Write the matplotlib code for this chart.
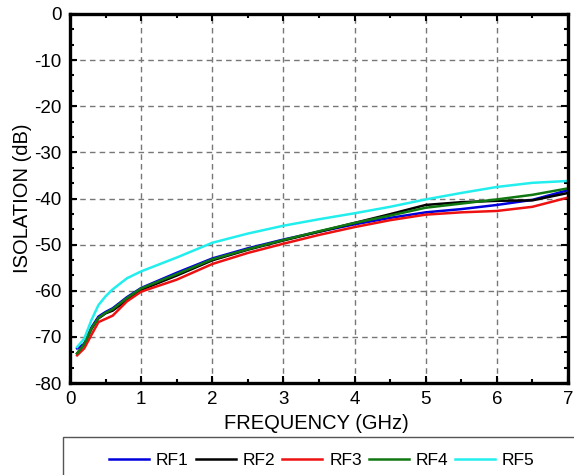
import matplotlib
matplotlib.use("Agg")
import matplotlib.pyplot as plt
from matplotlib.patches import Rectangle
from matplotlib.ticker import MultipleLocator

plt.rcParams['font.family'] = ['Liberation Sans', 'DejaVu Sans']
plt.rcParams['axes.unicode_minus'] = False

freq = [0.1, 0.2, 0.3, 0.4, 0.5, 0.6, 0.8, 1.0, 1.5, 2.0, 2.5, 3.0, 3.5, 4.0, 4.5, 5.0, 5.5, 6.0, 6.5, 7.0]

rf1 = [-72.5, -71.5, -68.0, -65.6, -64.6, -63.8, -61.4, -59.4, -56.1, -53.0, -50.8, -48.9, -47.2, -45.6, -44.2, -43.0, -42.3, -41.4, -40.3, -38.2]
rf2 = [-73.6, -71.6, -68.3, -66.0, -64.9, -64.3, -62.0, -59.8, -56.7, -53.4, -51.1, -49.1, -47.2, -45.3, -43.4, -41.4, -40.8, -40.5, -40.4, -38.8]
rf3 = [-74.0, -72.5, -69.6, -66.8, -66.1, -65.4, -62.3, -60.2, -57.6, -54.2, -51.8, -49.8, -47.9, -46.2, -44.7, -43.5, -43.0, -42.7, -41.8, -39.8]
rf4 = [-73.6, -71.6, -68.2, -65.9, -64.8, -64.0, -61.6, -59.5, -56.4, -53.2, -51.0, -49.0, -47.1, -45.3, -43.7, -42.0, -41.1, -40.2, -39.2, -37.8]
rf5 = [-72.2, -70.4, -66.4, -63.1, -61.2, -59.7, -57.3, -55.8, -52.8, -49.6, -47.6, -45.9, -44.5, -43.2, -41.8, -40.2, -38.8, -37.5, -36.6, -36.2]

series = [("RF1", rf1, "#0000dd"), ("RF2", rf2, "#000000"), ("RF3", rf3, "#ee1111"),
          ("RF4", rf4, "#117711"), ("RF5", rf5, "#22eeee")]

fig = plt.figure(figsize=(5.74, 4.75), dpi=100)
ax = fig.add_axes([70/574, 1-383/475, (568-70)/574, (383-14)/475])

for name, vals, col in series:
    ax.plot(freq, vals, color=col, lw=1.8, label=name)

ax.set_xlim(0, 7)
ax.set_ylim(-80, 0)
ax.xaxis.set_major_locator(MultipleLocator(1))
ax.xaxis.set_minor_locator(MultipleLocator(0.5))
ax.yaxis.set_major_locator(MultipleLocator(10))
ax.yaxis.set_minor_locator(MultipleLocator(10/3))
ax.tick_params(which='both', direction='in', top=True, right=True, labelsize=13.5, width=1.5)
ax.tick_params(which='major', length=5, pad=6)
ax.tick_params(which='minor', length=3)
for s in ax.spines.values():
    s.set_linewidth(2.4)
ax.grid(True, which='major', color='#777777', ls=(0, (4, 3)), lw=1.0)

ax.set_xlabel("FREQUENCY (GHz)", fontsize=14.5, labelpad=4)
ax.set_ylabel("ISOLATION (dB)", fontsize=14.5, labelpad=2)
ax.xaxis.set_label_coords(0.494, -0.083)

fig.patches.append(Rectangle((63/574, -0.05), 0.95, (475-437)/475 + 0.05,
                             transform=fig.transFigure, fill=False, ec='#555555', lw=1.0))
handles, labels = ax.get_legend_handles_labels()
fig.legend(handles, labels, loc='center', bbox_to_anchor=(322/574, 1-460/475), ncol=5,
           frameon=False, fontsize=12.5, handlelength=2.3, handletextpad=0.4, columnspacing=0.4)

fig.savefig("out.png", dpi=100)
